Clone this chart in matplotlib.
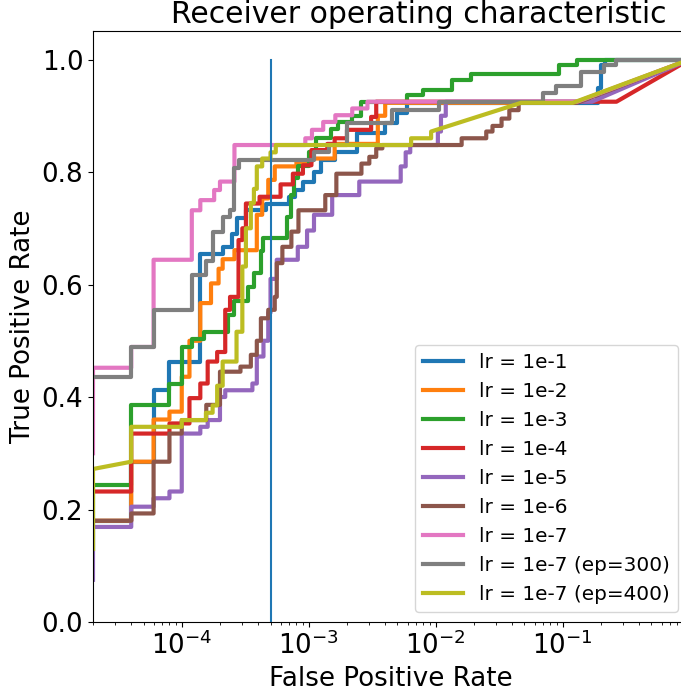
"""ROC curves for the learning-rate runs, log-scaled false positive rate"""
import numpy as np
import matplotlib
matplotlib.use("Agg")
import matplotlib.pyplot as plt

# step curves: fpr where the curve jumps up, tpr reached after the jump
FPR_B = [2e-5, 4e-5, 6e-5, 8e-5, 1.4e-4, 2.1e-4, 2.5e-4, 2.7e-4, 3.2e-4, 4.6e-4, 7e-4, 7.8e-4,
         9e-4, 1.1e-3, 1.25e-3, 1.6e-3, 2.4e-3, 4e-3, 5e-3, 5.9e-3, 0.19, 0.2, 0.215]
TPR_B = [0.18, 0.285, 0.412, 0.463, 0.655, 0.667, 0.69, 0.718, 0.732, 0.744, 0.756, 0.768,
         0.783, 0.80, 0.821, 0.836, 0.869, 0.887, 0.905, 0.923, 0.95, 0.99, 1.0]

FPR_O = [2e-5, 4e-5, 6e-5, 8e-5, 1e-4, 1.15e-4, 1.4e-4, 1.7e-4, 1.95e-4, 2.1e-4, 2.6e-4,
         3.9e-4, 4.3e-4, 4.8e-4, 5.4e-4, 8e-4, 1.05e-3, 1.6e-3, 3.5e-3, 4e-3, 0.125]
TPR_O = [0.18, 0.285, 0.36, 0.374, 0.436, 0.50, 0.567, 0.602, 0.628, 0.645, 0.661,
         0.724, 0.753, 0.786, 0.81, 0.818, 0.824, 0.85, 0.90, 0.923, 0.923]

FPR_G = [2e-5, 4e-5, 8e-5, 1e-4, 1.2e-4, 1.5e-4, 2.3e-4, 2.6e-4, 3.3e-4, 3.7e-4, 4.2e-4, 4.4e-4,
         6.8e-4, 7.2e-4, 7.6e-4, 8.2e-4, 1e-3, 1.15e-3, 1.5e-3, 1.7e-3, 2.2e-3, 2.6e-3,
         5.9e-3, 8e-3, 0.0135, 0.019, 0.093, 0.13]
TPR_G = [0.244, 0.386, 0.424, 0.489, 0.504, 0.516, 0.545, 0.57, 0.596, 0.62, 0.66, 0.682,
         0.72, 0.76, 0.79, 0.81, 0.835, 0.86, 0.877, 0.889, 0.90, 0.925,
         0.937, 0.946, 0.964, 0.975, 0.99, 1.0]

FPR_R = [2e-5, 4e-5, 8e-5, 1.15e-4, 1.4e-4, 1.6e-4, 1.9e-4, 2.2e-4, 2.4e-4, 2.8e-4, 3.0e-4,
         3.2e-4, 4.1e-4, 6e-4, 7.5e-4, 9e-4, 1.05e-3, 1.4e-3, 1.6e-3, 2e-3, 3.1e-3, 3.4e-3, 0.265]
TPR_R = [0.232, 0.335, 0.353, 0.398, 0.424, 0.463, 0.48, 0.555, 0.578, 0.679, 0.70,
         0.744, 0.756, 0.778, 0.797, 0.812, 0.839, 0.85, 0.86, 0.875, 0.898, 0.925, 0.925]

FPR_P = [2e-5, 4e-5, 6e-5, 8e-5, 1e-4, 1.4e-4, 1.6e-4, 2e-4, 2.2e-4, 3.6e-4, 3.9e-4, 4.1e-4,
         4.4e-4, 4.8e-4, 5e-4, 5.6e-4, 8.2e-4, 9.7e-4, 1.1e-3, 1.53e-3, 2.5e-3, 5.3e-3,
         5.8e-3, 6.3e-3, 0.0104, 0.011, 0.012, 0.17]
TPR_P = [0.169, 0.205, 0.22, 0.232, 0.335, 0.347, 0.359, 0.40, 0.412, 0.424, 0.472, 0.472,
         0.50, 0.55, 0.61, 0.644, 0.667, 0.696, 0.724, 0.759, 0.783, 0.81,
         0.835, 0.848, 0.872, 0.90, 0.925, 0.925]

FPR_N = [2e-5, 4e-5, 6e-5, 8e-5, 1e-4, 1.56e-4, 2e-4, 2.9e-4, 3.5e-4, 3.9e-4, 4.2e-4, 4.8e-4,
         5.4e-4, 5.6e-4, 6.2e-4, 7.3e-4, 8.3e-4, 1.35e-3, 1.65e-3, 2.6e-3, 3e-3, 3.4e-3,
         3.8e-3, 0.016, 0.025, 0.028, 0.033, 0.038, 0.045, 0.13]
TPR_N = [0.18, 0.193, 0.285, 0.335, 0.359, 0.386, 0.445, 0.454, 0.475, 0.50, 0.54, 0.555,
         0.578, 0.638, 0.667, 0.694, 0.732, 0.759, 0.797, 0.815, 0.827, 0.842,
         0.848, 0.86, 0.872, 0.882, 0.895, 0.91, 0.923, 0.923]

FPR_K = [2e-5, 4e-5, 6e-5, 1.2e-4, 1.4e-4, 1.8e-4, 2e-4, 2.6e-4, 9.4e-4, 1.06e-3, 1.3e-3,
         1.62e-3, 2.2e-3, 2.9e-3, 0.13]
TPR_K = [0.452, 0.489, 0.644, 0.732, 0.750, 0.768, 0.783, 0.848, 0.860, 0.875, 0.889,
         0.901, 0.913, 0.925, 0.925]

FPR_E300 = [2e-5, 4e-5, 6e-5, 1.2e-4, 1.55e-4, 1.75e-4, 2.1e-4, 2.4e-4, 2.6e-4, 2.8e-4,
            1.1e-3, 1.45e-3, 2e-3, 4.5e-3, 0.0106, 0.07, 0.089, 0.14, 0.21, 0.265]
TPR_E300 = [0.436, 0.489, 0.555, 0.617, 0.641, 0.694, 0.72, 0.732, 0.807, 0.822,
            0.836, 0.848, 0.887, 0.91, 0.925, 0.94, 0.953, 0.977, 0.99, 1.0]

# tpr value where each step curve starts at the left edge
START = [0.18, 0.18, 0.13, 0.232, 0.075, 0.18, 0.30, 0.436]

# ep=400 run has sloped pieces, so its points are given as they are
FPR_E400 = [2e-5, 2e-5, 4e-5, 4e-5, 1e-4, 1e-4, 1.55e-4, 1.55e-4, 1.75e-4, 1.75e-4,
            1.9e-4, 1.9e-4, 2.1e-4, 2.1e-4, 2.7e-4, 2.7e-4, 3.0e-4, 3.0e-4, 3.2e-4, 3.2e-4,
            3.5e-4, 3.5e-4, 3.7e-4, 3.7e-4, 3.9e-4, 3.9e-4, 4.3e-4, 4.3e-4, 5e-4, 5e-4,
            5.5e-4, 5.5e-4, 6.4e-3, 6.4e-3, 9.2e-3, 9.2e-3, 0.047, 0.12, 1.0]
TPR_E400 = [0.13, 0.272, 0.285, 0.347, 0.347, 0.359, 0.359, 0.372, 0.372, 0.385,
            0.385, 0.42, 0.42, 0.463, 0.463, 0.516, 0.516, 0.632, 0.632, 0.70,
            0.70, 0.745, 0.745, 0.77, 0.77, 0.81, 0.81, 0.824, 0.824, 0.835,
            0.835, 0.848, 0.848, 0.86, 0.86, 0.872, 0.923, 0.923, 1.0]

LABELS = ["lr = 1e-1", "lr = 1e-2", "lr = 1e-3", "lr = 1e-4", "lr = 1e-5", "lr = 1e-6",
          "lr = 1e-7", "lr = 1e-7 (ep=300)", "lr = 1e-7 (ep=400)"]
THRESHOLD_FPR = 5e-4


def stairs(fx, ty, y0):
    """corner points of a step roc curve, closed at (1, 1)"""
    xs = np.append(np.repeat(fx, 2), 1.0)
    ys = np.append(np.concatenate([[y0], np.repeat(ty, 2)[:-1]]), 1.0)
    return xs, ys


steps = [(FPR_B, TPR_B), (FPR_O, TPR_O), (FPR_G, TPR_G), (FPR_R, TPR_R), (FPR_P, TPR_P),
         (FPR_N, TPR_N), (FPR_K, TPR_K), (FPR_E300, TPR_E300)]

fig = plt.figure(figsize=(6.81, 6.92), dpi=100)
# the plot area runs a few pixels past the right edge of the image
ax = fig.add_axes([93 / 681, 70 / 692, 595 / 681, 590.6 / 692])

for i, (fx, ty) in enumerate(steps):
    xs, ys = stairs(fx, ty, START[i])
    ax.plot(xs, ys, lw=3, color="C%d" % i, label=LABELS[i])
ax.plot(FPR_E400, TPR_E400, lw=3, color="C8", label=LABELS[8])

ax.plot([THRESHOLD_FPR, THRESHOLD_FPR], [0, 1], lw=1.5, color="C0")

ax.set_xscale("log")
ax.set_xlim(2e-5, 0.97)
ax.set_ylim(0.0, 1.05)
ax.set_xlabel("False Positive Rate", fontsize=18.8)
ax.set_ylabel("True Positive Rate", fontsize=18.8)
ax.set_title("Receiver operating characteristic", fontsize=21.5, x=0.548)
ax.tick_params(labelsize=18.8)
ax.legend(loc="lower right", fontsize=14.4)

fig.savefig("out.png", dpi=100)
